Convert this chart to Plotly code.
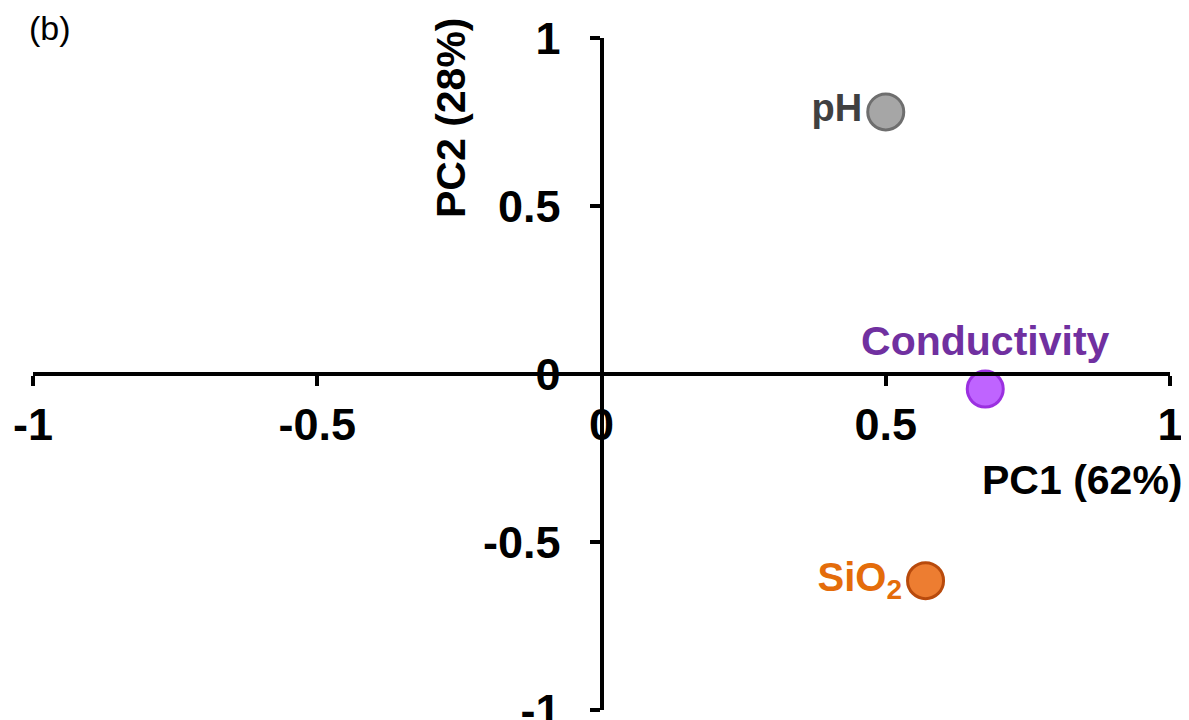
import plotly.graph_objects as go

variables = ["pH", "Conductivity", "SiO<sub>2</sub>"]
pc1 = [0.50, 0.675, 0.57]
pc2 = [0.78, -0.045, -0.615]
fill_colors = ["#A6A6A6", "#BF64FF", "#ED7D31"]
edge_colors = ["#6E6E6E", "#9B30E0", "#B84A0C"]
text_colors = ["#404040", "#7030A0", "#E46C0A"]
text_sizes = [38, 41, 40]
text_positions = ["middle left", "top center", "middle left"]
tick_vals = [-1, -0.5, 0, 0.5, 1]
tick_text = ["-1", "-0.5", "0", "0.5", "1"]

FONT = "Arial, Liberation Sans, sans-serif"

fig = go.Figure()
for i, name in enumerate(variables):
    fig.add_trace(go.Scatter(
        x=[pc1[i]], y=[pc2[i]],
        mode="markers+text",
        text=[name],
        textposition=text_positions[i],
        textfont=dict(family=FONT, size=text_sizes[i], color=text_colors[i], weight="bold"),
        marker=dict(size=36, color=fill_colors[i], line=dict(color=edge_colors[i], width=3)),
        showlegend=False,
        cliponaxis=False,
    ))

axis_common = dict(
    range=[-1, 1],
    tickvals=tick_vals,
    ticktext=tick_text,
    showgrid=False,
    zeroline=False,
    showline=True,
    linecolor="black",
    linewidth=4,
    ticks="outside",
    ticklen=10,
    tickwidth=4,
    tickcolor="black",
    tickfont=dict(family=FONT, size=45, color="black", weight="bold"),
    anchor="free",
    position=0.5,
    automargin=False,
    ticklabeloverflow="allow",
)

# The page body has an 8px margin; size the figure so it fills the window.
OFF = 8
W, H = 1189 - OFF, 720 - OFF
L, R, T, B = 33 - OFF, 19, 38 - OFF, 10

fig.update_layout(
    width=W, height=H,
    margin=dict(l=L, r=R, t=T, b=B),
    plot_bgcolor="white",
    paper_bgcolor="white",
    xaxis=dict(**axis_common, ticklabelstandoff=0),
    yaxis=dict(**axis_common, ticklabelstandoff=20),
)

pw, ph = W - L - R, H - T - B

def px(x):
    return (x - OFF - L) / pw

def py(y):
    return (H - B - (y - OFF)) / ph

fig.add_annotation(text="PC1 (62%)", x=px(1185), y=py(480), xref="paper", yref="paper",
                   xanchor="right", yanchor="middle", showarrow=False,
                   font=dict(family=FONT, size=41, color="black", weight="bold"))
fig.add_annotation(text="PC2 (28%)", x=px(451), y=py(118), xref="paper", yref="paper",
                   xanchor="center", yanchor="middle", textangle=-90, showarrow=False,
                   font=dict(family=FONT, size=41, color="black", weight="bold"))
fig.add_annotation(text="(b)", x=px(27), y=py(28), xref="paper", yref="paper",
                   xanchor="left", yanchor="middle", showarrow=False,
                   font=dict(family=FONT, size=34, color="black"))

fig.write_html("out.html")
